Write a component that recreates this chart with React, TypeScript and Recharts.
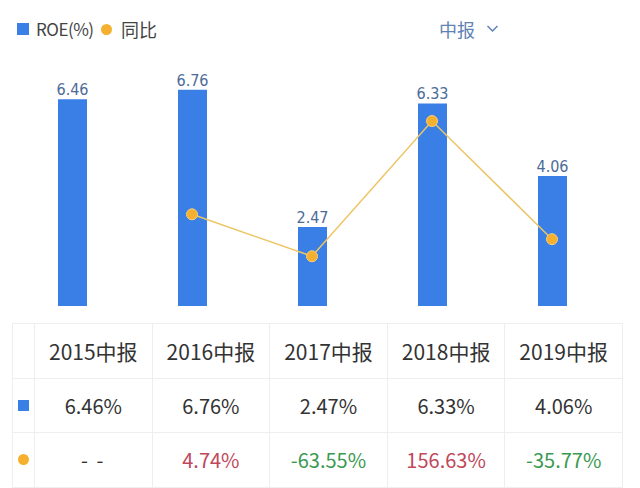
import React from 'react';
import { ComposedChart, Bar, Line, XAxis, YAxis, LabelList } from 'recharts';

const categories = ['2015中报', '2016中报', '2017中报', '2018中报', '2019中报'];
const roeValues = [6.46, 6.76, 2.47, 6.33, 4.06];
const yoyValues: (number | null)[] = [null, 4.74, -63.55, 156.63, -35.77];

const data = categories.map((c, i) => ({ name: c, roe: roeValues[i], yoy: yoyValues[i] }));

const BLUE = '#3a7fe5';
const ORANGE = '#f5b030';
const CJK = '"Noto Sans CJK SC", "Noto Sans", sans-serif';
const border = '1px solid #eceef2';

export default function App() {
  const cellStyle: React.CSSProperties = {
    border,
    textAlign: 'center',
    verticalAlign: 'middle',
    padding: 0,
  };
  return (
    <div style={{ position: 'absolute', left: 0, top: 0, width: 640, height: 488, background: '#fff', fontFamily: CJK, overflow: 'hidden' }}>
      {/* legend */}
      <div style={{ position: 'absolute', left: 17, top: 23, width: 12, height: 12, background: BLUE }} />
      <div style={{ position: 'absolute', left: 36, top: 16, fontSize: 17, letterSpacing: -0.5, lineHeight: '26px', color: '#444' }}>ROE(%)</div>
      <div style={{ position: 'absolute', left: 101, top: 23.5, width: 11, height: 11, borderRadius: '50%', background: ORANGE }} />
      <div style={{ position: 'absolute', left: 121, top: 16, fontSize: 18, lineHeight: '26px', color: '#444' }}>同比</div>
      <div style={{ position: 'absolute', left: 439, top: 16, fontSize: 18, lineHeight: '26px', color: '#5f82b5' }}>中报</div>
      <svg style={{ position: 'absolute', left: 486, top: 24 }} width={14} height={10}>
        <polyline points="1.5,2 6.5,7 11.5,2" fill="none" stroke="#5f82b5" strokeWidth={1.5} />
      </svg>

      {/* chart */}
      <div style={{ position: 'absolute', left: 0, top: 0 }}>
        <ComposedChart width={640} height={320} data={data} margin={{ top: 50, right: 18, left: 12, bottom: 14 }}>
          <XAxis dataKey="name" height={0} tick={false} tickLine={false} axisLine={{ stroke: '#e6e9ee' }} padding={{ left: 0, right: 10 }} />
          <YAxis yAxisId="left" hide domain={[0, 8]} />
          <YAxis yAxisId="right" orientation="right" hide domain={[-144.5, 272.2]} />
          <Bar yAxisId="left" dataKey="roe" fill={BLUE} barSize={29} isAnimationActive={false}>
            <LabelList dataKey="roe" position="top" offset={4} fill="#4c6b98" fontSize={16} fontFamily='"DejaVu Sans Condensed", "DejaVu Sans", sans-serif' formatter={(v: number) => v.toFixed(2)} />
          </Bar>
          <Line yAxisId="right" dataKey="yoy" stroke="#ecc566" strokeWidth={1.5} dot={{ r: 5.5, fill: ORANGE, stroke: '#f8cf78', strokeWidth: 1 }} activeDot={false} isAnimationActive={false} />
        </ComposedChart>
      </div>

      {/* table */}
      <table style={{ position: 'absolute', left: 12, top: 323, width: 610, borderCollapse: 'collapse', tableLayout: 'fixed', fontFamily: CJK }}>
        <colgroup>
          <col style={{ width: 22 }} />
          {categories.map((c) => <col key={c} style={{ width: 117.6 }} />)}
        </colgroup>
        <tbody>
          <tr style={{ height: 54.5 }}>
            <td style={cellStyle}></td>
            {categories.map((c) => (
              <td key={c} style={{ ...cellStyle, fontSize: 21, color: '#333' }}>{c}</td>
            ))}
          </tr>
          <tr style={{ height: 54.5 }}>
            <td style={cellStyle}>
              <div style={{ width: 11, height: 11, background: BLUE, margin: '0 auto' }} />
            </td>
            {roeValues.map((v, i) => (
              <td key={i} style={{ ...cellStyle, fontSize: 20, color: '#333' }}>{v.toFixed(2) + '%'}</td>
            ))}
          </tr>
          <tr style={{ height: 54.5 }}>
            <td style={cellStyle}>
              <div style={{ width: 11, height: 11, borderRadius: '50%', background: ORANGE, margin: '0 auto' }} />
            </td>
            {yoyValues.map((v, i) => (
              <td key={i} style={{ ...cellStyle, fontSize: 20, color: v == null ? '#333' : v >= 0 ? '#c0485a' : '#3a9a50', letterSpacing: v == null ? 2 : 0 }}>
                {v == null ? '- -' : v.toFixed(2) + '%'}
              </td>
            ))}
          </tr>
        </tbody>
      </table>
    </div>
  );
}
